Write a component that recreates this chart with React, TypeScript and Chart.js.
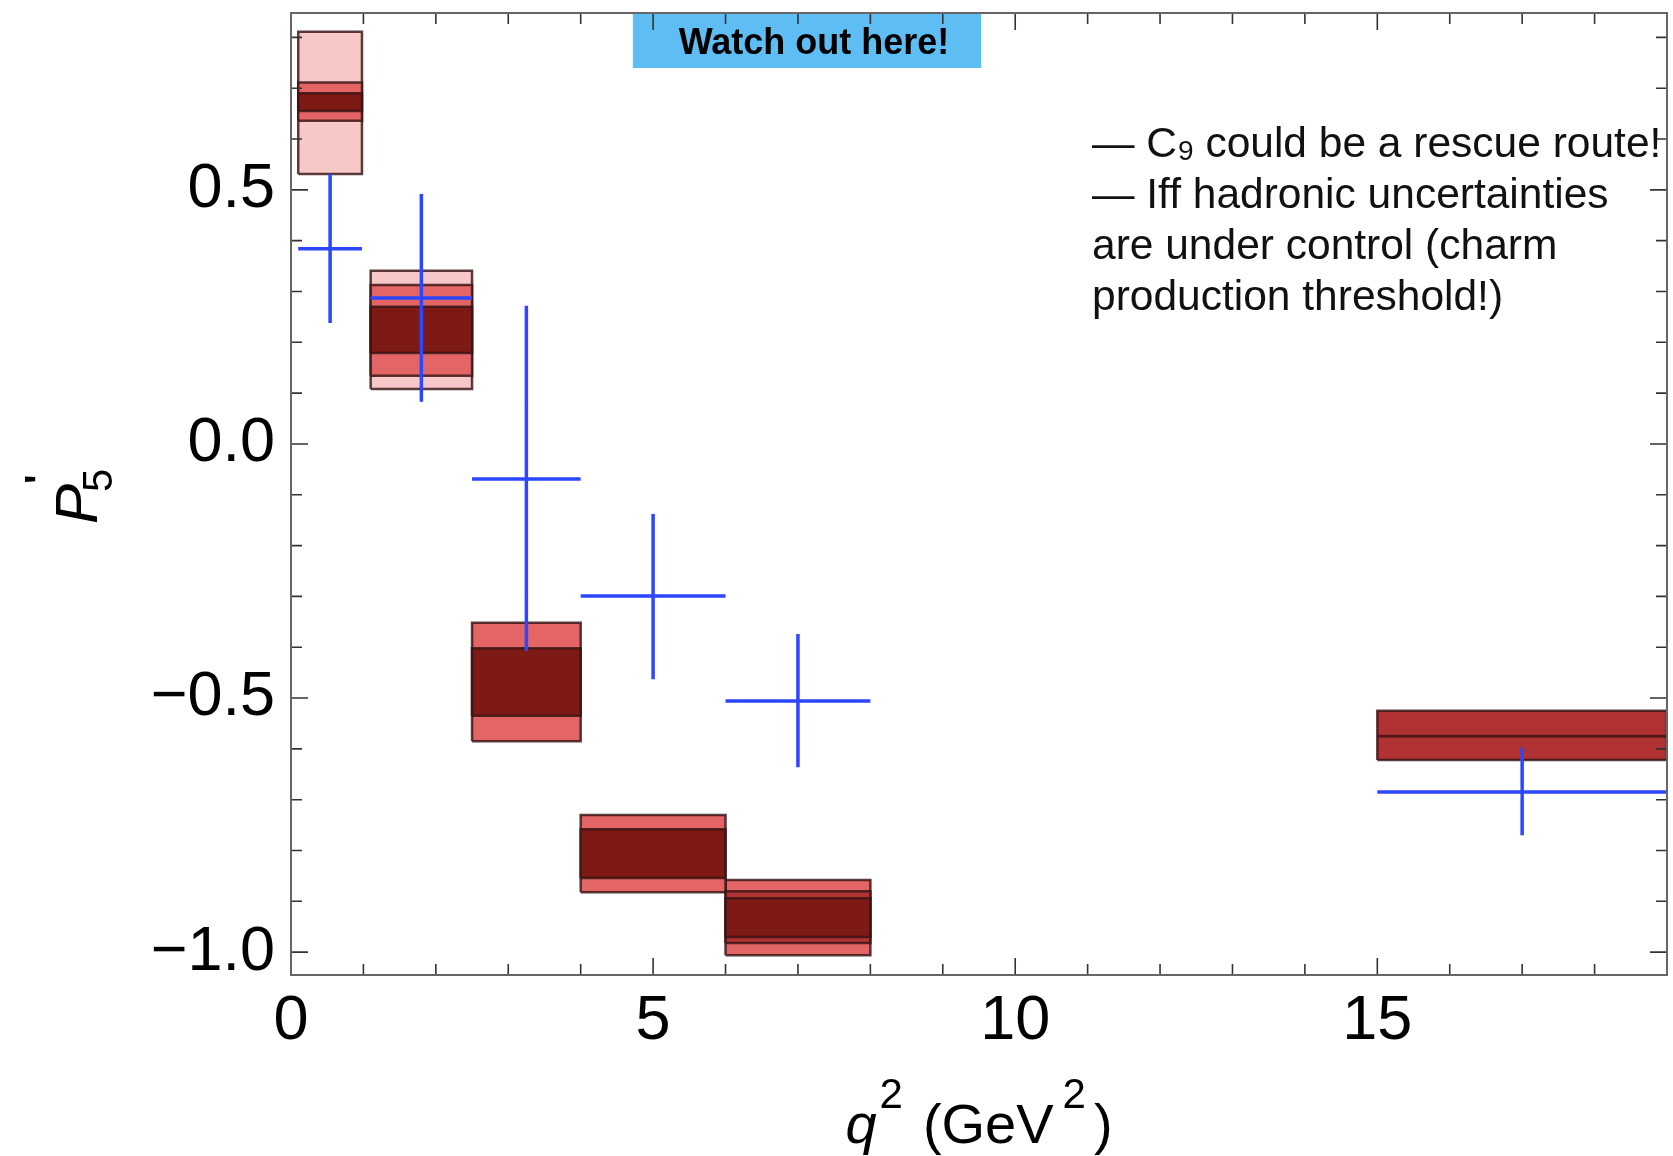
import React, { useEffect, useRef } from "react";
import { Chart, registerables } from "chart.js";

Chart.register(...registerables);

const FONT = '"Liberation Sans", Arial, Helvetica, sans-serif';

// q^2 bins (GeV^2)
const binLo = [0.1, 1.1, 2.5, 4.0, 6.0, 15.0];
const binHi = [0.98, 2.5, 4.0, 6.0, 8.0, 19.0];

// SM prediction bands (outer light -> inner dark); null = band absent
const lightLo = [0.531, 0.108, null, null, null, null];
const lightHi = [0.811, 0.341, null, null, null, null];
const mediumLo = [0.636, 0.134, -0.585, -0.882, -1.006, null];
const mediumHi = [0.711, 0.313, -0.352, -0.73, -0.858, null];
const midLo = [null, null, null, null, -0.982, -0.622];
const midHi = [null, null, null, null, -0.88, -0.525];
const darkLo = [0.655, 0.179, -0.535, -0.854, -0.97, null];
const darkHi = [0.69, 0.27, -0.402, -0.758, -0.894, null];
const centralLine = [null, null, null, null, null, -0.575];

// Measurement (blue crosses)
const dataX = [0.54, 1.8, 3.25, 5.0, 7.0, 17.0];
const dataY = [0.384, 0.287, -0.069, -0.299, -0.506, -0.685];
const dataErrLo = [0.238, 0.083, -0.407, -0.463, -0.636, -0.77];
const dataErrHi = [0.531, 0.492, 0.272, -0.138, -0.374, -0.598];

// Axes
const xMin = 0;
const xMax = 19;
const yMin = -1.045;
const yMax = 0.848;
const xMajorTicks = [0, 5, 10, 15];
const yMajorTicks = [-1.0, -0.5, 0.0, 0.5];
const xMinorStep = 1;
const yMinorStep = 0.1;

// Annotations
const watchText = "Watch out here!";
const watchX0 = 4.72;
const watchX1 = 9.53;
const noteLines = [
  "— Iff hadronic uncertainties",
  "are under control (charm",
  "production threshold!)",
];

const colLight = "#f8c8c8";
const colMedium = "#e46565";
const colMid = "#b03232";
const colDark = "#7e1a15";
const colBorder = "rgba(55,20,20,0.82)";
const colBlue = "rgb(45,70,255)";

function fmtY(v: number): string {
  if (Math.abs(v) < 1e-9) return "0.0";
  return (v < 0 ? "\u2212" : "") + Math.abs(v).toFixed(1);
}

type Run = { t: string; f: string; dy: number; gap: number };

function drawRuns(ctx: CanvasRenderingContext2D, runs: Run[], cx: number, y: number) {
  let total = 0;
  const widths: number[] = [];
  runs.forEach((r) => {
    ctx.font = r.f;
    const w = ctx.measureText(r.t).width;
    widths.push(w);
    total += w + r.gap;
  });
  let x = cx - total / 2;
  runs.forEach((r, i) => {
    x += r.gap;
    ctx.font = r.f;
    ctx.fillText(r.t, x, y + r.dy);
    x += widths[i];
  });
}

const decor = {
  id: "decor",
  afterDatasetsDraw(chart: any) {
    const { ctx, chartArea: a } = chart;
    const xs = chart.scales.x;
    const ys = chart.scales.y;
    ctx.save();
    // "Watch out here!" box
    const bx0 = xs.getPixelForValue(watchX0);
    const bx1 = xs.getPixelForValue(watchX1);
    ctx.fillStyle = "#5ebdf2";
    ctx.fillRect(bx0, a.top + 1, bx1 - bx0, 54);
    ctx.fillStyle = "#000";
    ctx.font = `bold 36px ${FONT}`;
    ctx.textAlign = "center";
    ctx.textBaseline = "alphabetic";
    ctx.fillText(watchText, (bx0 + bx1) / 2 + 7, a.top + 41);

    // inward tick marks on all four sides
    ctx.strokeStyle = "#333";
    ctx.lineWidth = 1.6;
    ctx.beginPath();
    const nx = Math.round((xMax - xMin) / xMinorStep);
    for (let k = 0; k <= nx; k++) {
      const v = xMin + k * xMinorStep;
      const px = xs.getPixelForValue(v);
      const len = xMajorTicks.includes(v) ? 17 : 11;
      ctx.moveTo(px, a.bottom);
      ctx.lineTo(px, a.bottom - len);
      ctx.moveTo(px, a.top);
      ctx.lineTo(px, a.top + len);
    }
    const k0 = Math.ceil(yMin / yMinorStep - 1e-6);
    const k1 = Math.floor(yMax / yMinorStep + 1e-6);
    for (let k = k0; k <= k1; k++) {
      const v = k * yMinorStep;
      const py = ys.getPixelForValue(v);
      const major = yMajorTicks.some((m) => Math.abs(m - v) < 1e-6);
      const len = major ? 17 : 11;
      ctx.moveTo(a.left, py);
      ctx.lineTo(a.left + len, py);
      ctx.moveTo(a.right, py);
      ctx.lineTo(a.right - len, py);
    }
    ctx.stroke();

    // frame
    ctx.strokeStyle = "#666";
    ctx.lineWidth = 2;
    ctx.strokeRect(a.left, a.top, a.right - a.left, a.bottom - a.top);
    ctx.restore();
  },
  afterDraw(chart: any) {
    const { ctx, chartArea: a } = chart;
    ctx.save();
    ctx.fillStyle = "#000";
    ctx.textAlign = "left";
    ctx.textBaseline = "alphabetic";

    // x-axis title: q^2 (GeV^2)
    const cx = (a.left + a.right) / 2;
    drawRuns(
      ctx,
      [
        { t: "q", f: `italic 56px ${FONT}`, dy: 0, gap: 0 },
        { t: "2", f: `42px ${FONT}`, dy: -35, gap: 3 },
        { t: "(GeV", f: `56px ${FONT}`, dy: 0, gap: 20 },
        { t: "2", f: `42px ${FONT}`, dy: -35, gap: 9 },
        { t: ")", f: `56px ${FONT}`, dy: 0, gap: 8 },
      ],
      cx,
      a.bottom + 168
    );

    // y-axis title: P'_5 (rotated)
    const cy = (a.top + a.bottom) / 2;
    ctx.save();
    ctx.translate(97, cy);
    ctx.rotate(-Math.PI / 2);
    ctx.font = `italic 60px ${FONT}`;
    ctx.fillText("P", -30, 0);
    ctx.font = `42px ${FONT}`;
    ctx.fillText("5", 2, 15);
    ctx.font = `bold 40px ${FONT}`;
    ctx.fillText("'", 10, -44);
    ctx.restore();

    // notes
    const nx = a.left + 801;
    const by = 157;
    const lh = 51;
    ctx.fillStyle = "#111";
    ctx.font = `42.5px ${FONT}`;
    let x = nx;
    ctx.fillText("— ", x, by);
    x += ctx.measureText("— ").width;
    ctx.fillText("C", x, by);
    x += ctx.measureText("C").width;
    ctx.font = `28px ${FONT}`;
    ctx.fillText("9", x + 1, by + 3);
    x += ctx.measureText("9").width + 1;
    ctx.font = `42.5px ${FONT}`;
    ctx.fillText(" could be a rescue route!", x, by);
    noteLines.forEach((line, i) => {
      ctx.fillText(line, nx, by + lh * (i + 1));
    });
    ctx.restore();
  },
};

export default function App() {
  const ref = useRef<HTMLCanvasElement>(null);
  useEffect(() => {
    const canvas = ref.current;
    if (!canvas) return;
    const datasets: any[] = [];

    // blue measurement crosses (on top)
    const bluePts: any[] = [];
    dataX.forEach((xc, i) => {
      bluePts.push({ x: binLo[i], y: dataY[i] });
      bluePts.push({ x: binHi[i], y: dataY[i] });
      bluePts.push({ x: xc, y: null });
      bluePts.push({ x: xc, y: dataErrLo[i] });
      bluePts.push({ x: xc, y: dataErrHi[i] });
      bluePts.push({ x: xc, y: null });
    });
    datasets.push({
      label: "data",
      data: bluePts,
      borderColor: colBlue,
      borderWidth: 3.5,
      pointRadius: 0,
      fill: false,
      spanGaps: false,
      order: 0,
    });

    // central line
    centralLine.forEach((c, i) => {
      if (c === null) return;
      datasets.push({
        label: "central",
        data: [
          { x: binLo[i], y: c },
          { x: binHi[i], y: c },
        ],
        borderColor: "rgba(70,20,20,0.85)",
        borderWidth: 3,
        pointRadius: 0,
        fill: false,
        order: 1,
      });
    });

    const addBands = (lo: (number | null)[], hi: (number | null)[], color: string, order: number) => {
      lo.forEach((l, i) => {
        const h = hi[i];
        if (l === null || h === null) return;
        datasets.push({
          label: "band",
          data: [
            { x: binLo[i], y: l },
            { x: binHi[i], y: l },
            { x: binHi[i], y: h },
            { x: binLo[i], y: h },
            { x: binLo[i], y: l },
          ],
          fill: "shape",
          backgroundColor: color,
          borderColor: colBorder,
          borderWidth: 2.5,
          pointRadius: 0,
          tension: 0,
          order,
        });
      });
    };
    addBands(darkLo, darkHi, colDark, 2);
    addBands(midLo, midHi, colMid, 3);
    addBands(mediumLo, mediumHi, colMedium, 4);
    addBands(lightLo, lightHi, colLight, 5);

    const chart = new Chart(canvas, {
      type: "line",
      data: { datasets },
      options: {
        animation: false,
        responsive: false,
        devicePixelRatio: 1,
        layout: { autoPadding: false, padding: { left: 0, right: 6, top: 13, bottom: 0 } },
        plugins: { legend: { display: false }, tooltip: { enabled: false } },
        scales: {
          x: {
            type: "linear",
            min: xMin,
            max: xMax,
            afterBuildTicks: (s: any) => {
              s.ticks = xMajorTicks.map((v) => ({ value: v }));
            },
            afterFit: (s: any) => {
              s.height = 181;
              s.paddingLeft = 0;
              s.paddingRight = 0;
            },
            ticks: {
              font: { family: FONT, size: 63 },
              color: "#000",
              padding: 9,
              maxRotation: 0,
              autoSkip: false,
              callback: (v: any) => String(v),
            },
            grid: { display: false, drawTicks: false },
            border: { display: false },
          },
          y: {
            type: "linear",
            min: yMin,
            max: yMax,
            afterBuildTicks: (s: any) => {
              s.ticks = yMajorTicks.map((v) => ({ value: v }));
            },
            afterFit: (s: any) => {
              s.width = 291;
              s.paddingTop = 0;
              s.paddingBottom = 0;
            },
            ticks: {
              font: { family: FONT, size: 63 },
              color: "#000",
              padding: 16,
              autoSkip: false,
              callback: (v: any) => fmtY(Number(v)),
            },
            grid: { display: false, drawTicks: false },
            border: { display: false },
          },
        },
      },
      plugins: [decor],
    } as any);
    return () => chart.destroy();
  }, []);

  return (
    <div style={{ position: "absolute", left: 0, top: 0, width: 1673, height: 1156, background: "#fff" }}>
      <canvas ref={ref} width={1673} height={1156} style={{ display: "block" }} />
    </div>
  );
}
